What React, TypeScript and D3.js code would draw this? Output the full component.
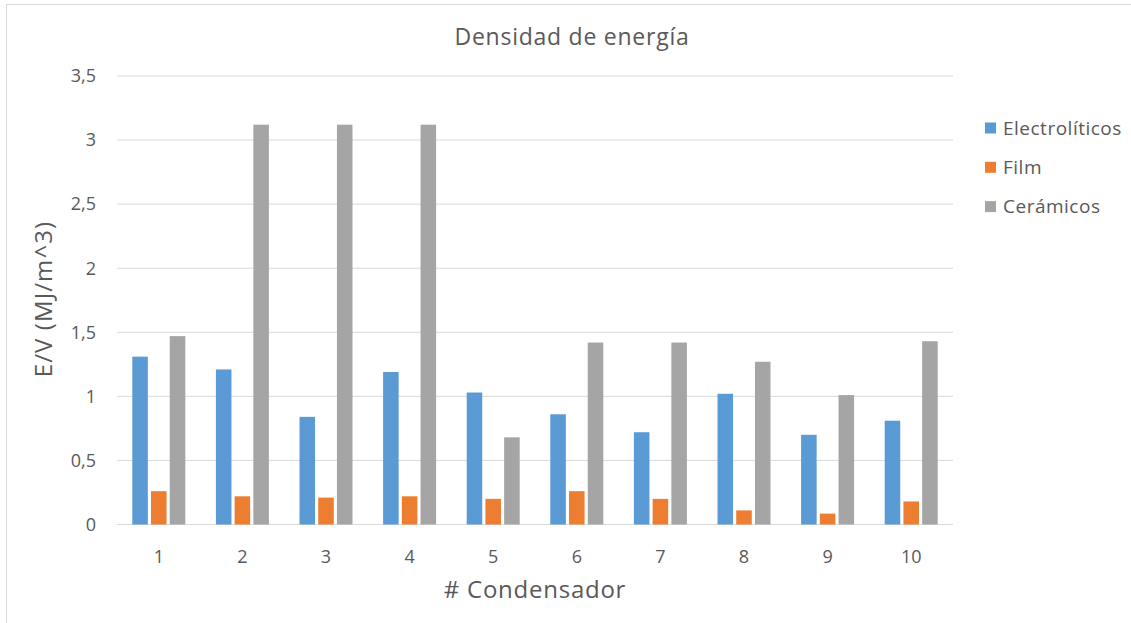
import React from "react";
import * as d3 from "d3";

const categories = ["1", "2", "3", "4", "5", "6", "7", "8", "9", "10"];
const seriesNames = ["Electrolíticos", "Film", "Cerámicos"];
const electroliticos = [1.31, 1.21, 0.84, 1.19, 1.03, 0.86, 0.72, 1.02, 0.7, 0.81];
const film = [0.26, 0.22, 0.21, 0.22, 0.2, 0.26, 0.2, 0.11, 0.085, 0.18];
const ceramicos = [1.47, 3.12, 3.12, 3.12, 0.68, 1.42, 1.42, 1.27, 1.01, 1.43];
const yTicks = [0, 0.5, 1, 1.5, 2, 2.5, 3, 3.5];
const colors = ["#5B9BD5", "#ED7D31", "#A5A5A5"];

const W = 1131;
const H = 623;
const FONT = "'Open Sans', sans-serif";
const TEXT = "#595959";

export default function App() {
  const values = [electroliticos, film, ceramicos];
  const x = d3.scaleBand<string>().domain(categories).range([117, 953]).padding(0);
  const inner = d3
    .scaleBand<string>()
    .domain(seriesNames)
    .range([-26.5, 26.5])
    .paddingInner(0.17)
    .paddingOuter(0);
  const y = d3.scaleLinear().domain([0, 3.5]).range([524.5, 76]);
  const fmt = (v: number) => String(v).replace(".", ",");

  return (
    <svg
      width={W}
      height={H}
      style={{ position: "absolute", left: 0, top: 0, background: "#fff" }}
      fontFamily={FONT}
    >
      <rect x={6.5} y={4.5} width={W + 20} height={H + 20} fill="#fff" stroke="#D9D9D9" strokeWidth={1} />

      <text x={572} y={45} textAnchor="middle" fontSize={23} letterSpacing={0.75} fill={TEXT}>
        Densidad de energía
      </text>

      {/* gridlines and y tick labels */}
      {yTicks.map((t) => (
        <g key={t}>
          <line x1={117} x2={953} y1={y(t)} y2={y(t)} stroke="#D9D9D9" strokeWidth={1} />
          <text x={96} y={y(t)} dy="0.35em" textAnchor="end" fontSize={18} fill={TEXT}>
            {fmt(t)}
          </text>
        </g>
      ))}

      {/* bars */}
      {seriesNames.map((s, si) => (
        <g key={s} fill={colors[si]}>
          {categories.map((c, ci) => {
            const cx = (x(c) as number) + x.bandwidth() / 2;
            const v = values[si][ci];
            return (
              <rect
                key={c}
                x={cx + (inner(s) as number)}
                y={y(v)}
                width={inner.bandwidth()}
                height={y(0) - y(v)}
              />
            );
          })}
        </g>
      ))}

      {/* x tick labels */}
      {categories.map((c) => (
        <text
          key={c}
          x={(x(c) as number) + x.bandwidth() / 2}
          y={557}
          dy="0.35em"
          textAnchor="middle"
          fontSize={18}
          fill={TEXT}
        >
          {c}
        </text>
      ))}

      <text x={535} y={590} dy="0.35em" textAnchor="middle" fontSize={24} letterSpacing={0.75} fill={TEXT}>
        # Condensador
      </text>

      <text
        transform={`translate(44,299) rotate(-90)`}
        dy="0.35em"
        textAnchor="middle"
        fontSize={24}
        letterSpacing={1.1}
        fill={TEXT}
      >
        E/V (MJ/m^3)
      </text>

      {/* legend */}
      {seriesNames.map((s, si) => {
        const ly = 128 + si * 39.3;
        return (
          <g key={s}>
            <rect x={985} y={ly - 5.5} width={11} height={11} fill={colors[si]} />
            <text x={1003} y={ly} dy="0.35em" fontSize={19} letterSpacing={0.5} fill={TEXT}>
              {s}
            </text>
          </g>
        );
      })}
    </svg>
  );
}
